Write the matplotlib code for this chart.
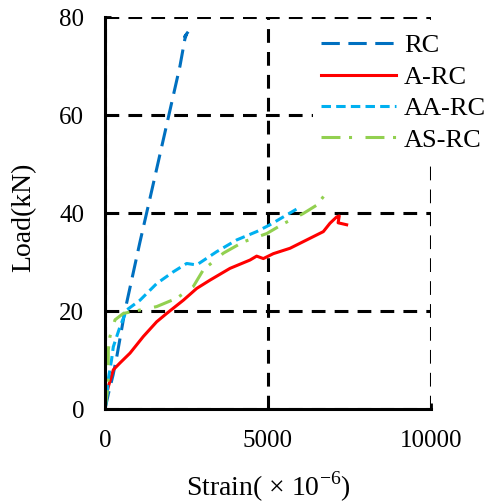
import matplotlib
matplotlib.use("Agg")
import matplotlib.pyplot as plt

plt.rcParams['font.family'] = ['Liberation Serif', 'DejaVu Serif']
plt.rcParams['mathtext.fontset'] = 'custom'
plt.rcParams['mathtext.rm'] = 'Liberation Serif'

# 데이터
rc_x = [0, 100, 250, 370, 610, 1070, 1380, 1960, 2300, 2450, 2500, 2450, 2550]
rc_y = [0, 3, 7, 11, 20, 34, 43, 60, 70, 75.5, 76.5, 76, 77]

arc_x = [0, 30, 100, 255, 460, 767, 1176, 1585, 1892, 2403, 2812, 3221, 3834,
         4448, 4652, 4857, 5163, 5675, 6186, 6697, 6900, 7106, 7187, 7150, 7413]
arc_y = [0, 2.5, 4.5, 8, 9.4, 11.4, 14.8, 17.8, 19.5, 22.2, 24.6, 26.3, 28.7,
         30.4, 31.2, 30.7, 31.7, 32.8, 34.5, 36.2, 37.9, 39.2, 39.4, 38.0, 37.6]

aarc_x = [0, 50, 100, 200, 255, 460, 665, 1073, 1585, 2096, 2505, 2812, 3425,
          4039, 4652, 5061, 5470, 5981]
aarc_y = [0, 2, 6, 10, 12.7, 16.8, 20.2, 22.2, 25.6, 28, 29.7, 29.4, 32.1,
          34.5, 36.2, 37.6, 39.2, 41.2]

asrc_x = [0, 60, 100, 100, 153, 307, 562, 1073, 1585, 2199, 2709, 3016, 3630,
          4243, 4960, 5470, 6083, 6493, 6779]
asrc_y = [0, 3, 6.5, 12, 14.8, 18.2, 19.5, 20.2, 20.9, 22.6, 25, 28.4, 31.8,
          34.1, 35.8, 37.8, 39.9, 41.6, 44]

labels = ['RC', 'A-RC', 'AA-RC', 'AS-RC']
colors = ['#0070C0', '#FF0000', '#00B0F0', '#92D050']

fig = plt.figure(figsize=(4.87, 5.04), dpi=100)
ax = fig.add_axes([105/487, 1-409/504, 326/487, 392/504])

lw = 2.2
ax.plot(rc_x, rc_y, color=colors[0], lw=lw, dashes=(6, 2.8), label=labels[0])
ax.plot(arc_x, arc_y, color=colors[1], lw=lw, label=labels[1])
ax.plot(aarc_x, aarc_y, color=colors[2], lw=lw, dashes=(3.1, 1.7), label=labels[2])
ax.plot(asrc_x, asrc_y, color=colors[3], lw=lw, dashes=(6.2, 2.8, 1, 4.4), label=labels[3])

ax.set_xlim(0, 10000)
ax.set_ylim(0, 80)
ax.set_xticks([0, 5000, 10000])
ax.set_yticks([0, 20, 40, 60, 80])
ax.grid(True, color='black', lw=2.2, dashes=(4.5, 3))
ax.set_axisbelow(True)

for s in ['top', 'right']:
    ax.spines[s].set_visible(False)
for s in ['left', 'bottom']:
    ax.spines[s].set_linewidth(2.2)
ax.tick_params(direction='in', length=4, width=2, labelsize=18, pad=15)

ax.set_xlabel('Strain( × 10$^{\\mathregular{-6}}$)', fontsize=20, va='center')
ax.set_ylabel('Load(kN)', fontsize=20, va='center')
ax.xaxis.set_label_coords(0.5, -0.198)
ax.yaxis.set_label_coords(-0.25, 0.49)

leg = ax.legend(loc='upper left', bbox_to_anchor=(313/487, 1-26/504),
                bbox_transform=fig.transFigure, frameon=True, fontsize=19,
                handlelength=2.85, handletextpad=0.3, labelspacing=0.3,
                borderpad=0.3, borderaxespad=0)
leg.get_frame().set_edgecolor('none')
leg.get_frame().set_facecolor('white')
leg.get_frame().set_alpha(1)

plt.savefig('out.png', dpi=100)
